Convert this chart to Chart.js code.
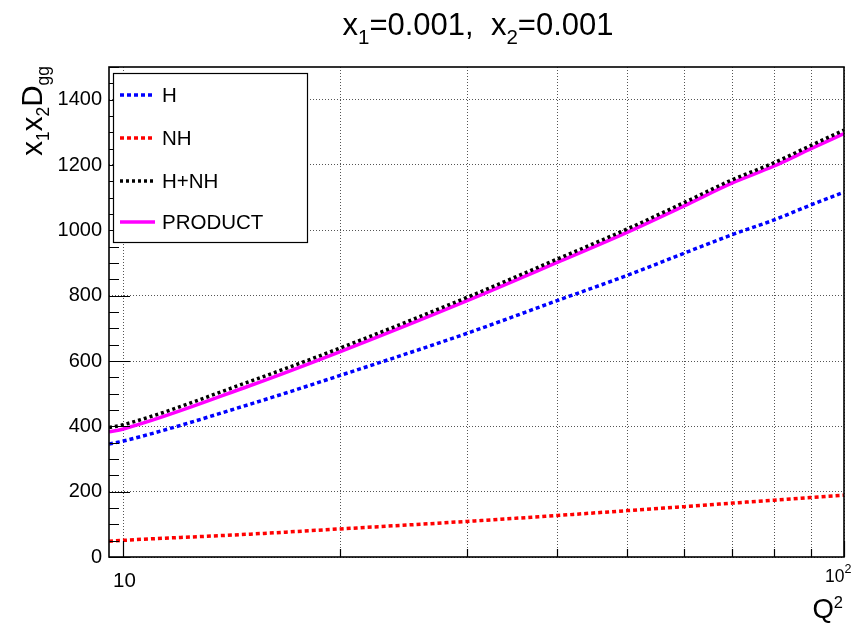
<!DOCTYPE html>
<html>
<head>
<meta charset="utf-8">
<script src="https://cdn.jsdelivr.net/npm/chart.js@4"></script>
<style>
  html, body { margin: 0; padding: 0; background: #ffffff; }
  #c { display: block; }
</style>
</head>
<body>
<canvas id="c" width="857" height="624" style="width:857px;height:624px"></canvas>
<script>
// ---- data ----
const q2Values      = [9.55, 10, 15, 20, 30, 40, 50, 60, 70, 80, 90, 100];
const hValues       = [346, 355, 468, 556, 685, 785, 862, 930, 987, 1032, 1078, 1117];
const nhValues      = [48, 51, 70, 86, 109, 127, 142, 154, 165, 174, 182, 189];
const hPlusNhValues = [396, 405, 538, 640, 795, 912, 1004, 1085, 1155, 1207, 1260, 1307];
const productValues = [383, 392, 525, 629, 785, 902, 994, 1075, 1145, 1197, 1250, 1296];

const seriesLabels  = ['H', 'NH', 'H+NH', 'PRODUCT'];
const yTickValues   = [0, 200, 400, 600, 800, 1000, 1200, 1400];
const xGridValues   = [10, 20, 30, 40, 50, 60, 70, 80, 90, 100];
const xMajorValues  = [10, 100];
const yMinorStep    = 50;

const FONT = "'Liberation Sans', Arial, Helvetica, sans-serif";

function pts(vals) { return q2Values.map((x, i) => ({ x: x, y: vals[i] })); }

// rich text: parts = [{t, size, dy}]
function richWidth(ctx, parts) {
  let w = 0;
  for (const p of parts) { ctx.font = p.size + 'px ' + FONT; w += ctx.measureText(p.t).width; }
  return w;
}
function drawRich(ctx, parts, x, y, align) {
  const w = richWidth(ctx, parts);
  let cx = align === 'center' ? x - w / 2 : (align === 'right' ? x - w : x);
  ctx.textAlign = 'left';
  ctx.textBaseline = 'alphabetic';
  for (const p of parts) {
    ctx.font = p.size + 'px ' + FONT;
    ctx.fillText(p.t, cx, y + (p.dy || 0));
    cx += ctx.measureText(p.t).width;
  }
}

const decorPlugin = {
  id: 'decor',
  afterDraw(chart) {
    const ctx = chart.ctx;
    const a = chart.chartArea;
    const xs = chart.scales.x, ys = chart.scales.y;
    ctx.save();
    ctx.fillStyle = '#000';
    ctx.strokeStyle = '#000';

    // inward ticks on left axis
    ctx.lineWidth = 1.2;
    ctx.beginPath();
    for (let v = 0; v <= ys.max; v += yMinorStep) {
      const py = Math.round(ys.getPixelForValue(v)) + 0.5;
      const len = yTickValues.includes(v) ? 21 : 10;
      ctx.moveTo(a.left, py); ctx.lineTo(a.left + len, py);
    }
    // inward ticks on bottom axis
    for (const v of xGridValues) {
      const px = Math.round(xs.getPixelForValue(v)) + 0.5;
      const len = xMajorValues.includes(v) ? 16 : 8;
      ctx.moveTo(px, a.bottom); ctx.lineTo(px, a.bottom - len);
    }
    ctx.stroke();

    // frame
    ctx.lineWidth = 1.6;
    ctx.strokeRect(a.left, a.top, a.right - a.left, a.bottom - a.top);

    // x tick labels (log decades)
    const p10 = xs.getPixelForValue(10);
    ctx.font = '20.5px ' + FONT;
    ctx.textAlign = 'center';
    ctx.textBaseline = 'alphabetic';
    ctx.fillText('10', p10 + 1, 587);
    const p100 = xs.getPixelForValue(100);
    drawRich(ctx, [{ t: '10', size: 17.5 }, { t: '2', size: 12.5, dy: -9 }], p100 - 19, 582, 'left');

    // title
    drawRich(ctx, [
      { t: 'x', size: 31 }, { t: '1', size: 20.5, dy: 9 },
      { t: '=0.001,  x', size: 31 }, { t: '2', size: 20.5, dy: 9 },
      { t: '=0.001', size: 31 }
    ], 478, 35, 'center');

    // x axis title
    drawRich(ctx, [{ t: 'Q', size: 27.5 }, { t: '2', size: 16.5, dy: -10 }], a.right - 1, 618, 'right');

    // y axis title (rotated)
    ctx.save();
    ctx.translate(42, a.top - 1);
    ctx.rotate(-Math.PI / 2);
    drawRich(ctx, [
      { t: 'x', size: 29.5 }, { t: '1', size: 17.5, dy: 7 },
      { t: 'x', size: 29.5 }, { t: '2', size: 17.5, dy: 7 },
      { t: 'D', size: 29.5 }, { t: 'gg', size: 17.5, dy: 7 }
    ], 0, 0, 'right');
    ctx.restore();

    // legend
    const lx = 113, ly = 73, lw = 194, lh = 169;
    ctx.fillStyle = '#fff';
    ctx.fillRect(lx, ly, lw, lh);
    ctx.strokeStyle = '#000';
    ctx.lineWidth = 1.2;
    ctx.strokeRect(lx + 0.5, ly + 0.5, lw, lh);
    const rowY = [95, 138, 181, 222];
    chart.data.datasets.forEach((ds, i) => {
      const y = rowY[i];
      ctx.strokeStyle = ds.borderColor;
      ctx.lineWidth = ds.borderWidth;
      ctx.setLineDash(ds.borderDash || []);
      ctx.beginPath();
      ctx.moveTo(120, y); ctx.lineTo(155, y);
      ctx.stroke();
      ctx.setLineDash([]);
      ctx.fillStyle = '#000';
      ctx.font = '20.5px ' + FONT;
      ctx.textAlign = 'left';
      ctx.textBaseline = 'middle';
      ctx.fillText(ds.label, 162, y + 1);
    });
    ctx.restore();
  }
};

const gridOpts = { color: '#555', lineWidth: 1, drawTicks: false };
const borderOpts = { display: false, dash: [1, 2] };

new Chart(document.getElementById('c'), {
  type: 'line',
  data: {
    datasets: [
      { label: seriesLabels[0], data: pts(hValues), borderColor: '#0000ff', borderWidth: 3.5, borderDash: [4, 3] },
      { label: seriesLabels[1], data: pts(nhValues), borderColor: '#ff0000', borderWidth: 3.5, borderDash: [4, 3] },
      { label: seriesLabels[2], data: pts(hPlusNhValues), borderColor: '#000000', borderWidth: 3.5, borderDash: [3, 3] },
      { label: seriesLabels[3], data: pts(productValues), borderColor: '#ff00ff', borderWidth: 3.5, borderDash: [] }
    ]
  },
  options: {
    responsive: false,
    animation: false,
    elements: { point: { radius: 0 }, line: { fill: false, cubicInterpolationMode: 'monotone' } },
    layout: { padding: { left: 0, right: 13, top: 67, bottom: 67 } },
    plugins: { legend: { display: false }, title: { display: false }, tooltip: { enabled: false } },
    scales: {
      x: {
        type: 'logarithmic', min: 9.55, max: 100,
        afterBuildTicks: s => { s.ticks = xGridValues.map(v => ({ value: v })); },
        ticks: { display: false },
        grid: gridOpts, border: borderOpts,
        afterFit: s => { s.height = 0; }
      },
      y: {
        type: 'linear', min: 0, max: 1500,
        afterBuildTicks: s => { s.ticks = yTickValues.map(v => ({ value: v })); },
        ticks: { color: '#000', padding: 7, font: { family: FONT, size: 20 }, callback: v => String(v) },
        grid: gridOpts, border: borderOpts,
        afterFit: s => { s.width = 109; }
      }
    }
  },
  plugins: [decorPlugin]
});
</script>
</body>
</html>
